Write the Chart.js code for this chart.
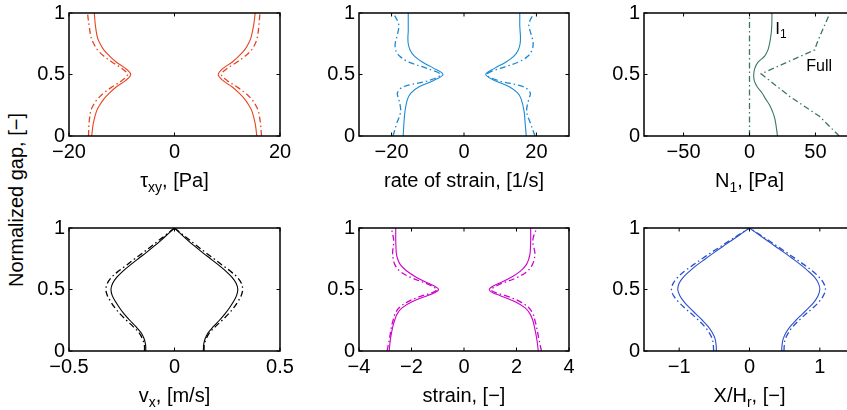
<!DOCTYPE html>
<html>
<head>
<meta charset="utf-8">
<script src="https://cdn.jsdelivr.net/npm/chart.js@4/dist/chart.umd.min.js"></script>
<style>
  html, body { margin: 0; padding: 0; background: #fff; width: 847px; height: 410px; overflow: hidden; position: relative; }
  canvas { position: absolute; }
  #ylab {
    position: absolute; left: 0; top: 0; width: 300px; text-align: center;
    font: 20px "Liberation Sans", Arial, Helvetica, sans-serif; line-height: 20px;
    white-space: nowrap; color: #000;
    transform-origin: 0 0; transform: translate(6px, 350px) rotate(-90deg);
  }
</style>
</head>
<body>
<div id="ylab">Normalized gap, [−]</div>
<canvas id="c1"></canvas>
<canvas id="c2"></canvas>
<canvas id="c3"></canvas>
<canvas id="c4"></canvas>
<canvas id="c5"></canvas>
<canvas id="c6"></canvas>
<script>
// ---- shear stress ----
const gapTau = [0, 0.1, 0.2, 0.25, 0.3, 0.35, 0.4, 0.45, 0.5, 0.55, 0.6, 0.65, 0.7, 0.75, 0.8, 0.9, 1.0];
const tauSolidRight = [15.6, 15.3, 14.7, 14.1, 13.3, 12.2, 10.9, 9.2, 8.3, 9.2, 10.9, 12.2, 13.3, 14.0, 14.5, 15.0, 15.3];
const tauSolidLeft  = [-15.7, -15.4, -14.8, -14.2, -13.4, -12.3, -11.0, -9.3, -8.3, -9.3, -11.0, -12.3, -13.4, -14.1, -14.6, -15.0, -15.2];
const tauDashRight  = [16.5, 16.3, 15.9, 15.4, 14.6, 13.4, 11.8, 10.0, 8.9, 10.0, 11.8, 13.4, 14.6, 15.3, 15.7, 16.0, 16.2];
const tauDashLeft   = [-16.3, -16.2, -15.9, -15.4, -14.6, -13.4, -11.8, -10.0, -8.9, -10.0, -11.8, -13.4, -14.6, -15.3, -15.8, -16.2, -16.5];
const tauTicks = [-20, 0, 20];

// ---- rate of strain ----
const gapRate = [0, 0.1, 0.2, 0.3, 0.35, 0.4, 0.45, 0.5, 0.55, 0.6, 0.65, 0.7, 0.75, 0.8, 0.85, 0.9, 0.95, 1.0];
const rateSolidRight = [17.2, 16.9, 16.6, 15.8, 14.8, 12.5, 8.6, 6.0, 8.4, 11.5, 13.8, 15.0, 15.5, 15.6, 15.5, 15.4, 15.4, 15.4];
const rateSolidLeft  = [-16.8, -16.6, -16.3, -15.6, -14.6, -12.4, -8.5, -5.8, -8.3, -11.4, -13.7, -14.9, -15.4, -15.5, -15.4, -15.4, -15.4, -15.4];
const rateDashRight  = [19.6, 18.4, 17.3, 17.9, 18.3, 16.5, 9.5, 6.3, 10.0, 15.0, 17.7, 18.8, 19.1, 18.8, 18.3, 17.9, 18.4, 19.5];
const rateDashLeft   = [-19.6, -18.6, -17.5, -18.0, -18.4, -16.8, -9.8, -6.5, -10.2, -15.2, -17.8, -18.9, -19.0, -18.6, -18.2, -18.0, -18.6, -19.6];
const rateTicks = [-20, 0, 20];

// ---- first normal stress difference ----
const gapN1 = [0, 0.05, 0.1, 0.15, 0.2, 0.25, 0.3, 0.35, 0.4, 0.45, 0.5, 0.55, 0.6, 0.65, 0.7, 0.75, 0.8, 0.85, 0.9, 0.95, 1.0];
const n1I1   = [21.2, 20.6, 19.9, 19.0, 17.4, 15.3, 12.3, 9.5, 5.8, 3.6, 3.2, 4.0, 6.5, 11.5, 14.0, 15.2, 16.0, 16.6, 16.9, 17.0, 17.0];
const gapN1Full = [0, 0.16, 0.32, 0.505, 0.7, 0.75, 0.84, 1.0];
const n1Full = [68, 53, 30.7, 8.8, 49.5, 51, 54.5, 61];
const gapN1Zero = [0, 1];
const n1Zero = [0, 0];
const n1Ticks = [-50, 0, 50];

// ---- velocity ----
const gapVel = [0, 0.05, 0.1, 0.15, 0.2, 0.25, 0.3, 0.35, 0.4, 0.45, 0.5, 0.55, 0.6, 0.65, 0.7, 0.75, 0.8, 0.85, 0.9, 0.95, 1.0];
const velSolidRight = [0.137, 0.138, 0.145, 0.16, 0.185, 0.213, 0.238, 0.26, 0.279, 0.294, 0.300, 0.292, 0.272, 0.243, 0.208, 0.171, 0.133, 0.097, 0.063, 0.031, 0];
const velSolidLeft  = [-0.136, -0.137, -0.144, -0.159, -0.184, -0.212, -0.238, -0.26, -0.279, -0.295, -0.301, -0.293, -0.273, -0.244, -0.209, -0.172, -0.134, -0.098, -0.064, -0.032, 0];
const velDashRight  = [0.14, 0.141, 0.15, 0.167, 0.195, 0.226, 0.255, 0.28, 0.3, 0.316, 0.323, 0.317, 0.297, 0.264, 0.225, 0.187, 0.148, 0.11, 0.073, 0.036, 0];
const velDashLeft   = [-0.142, -0.143, -0.152, -0.169, -0.197, -0.228, -0.257, -0.282, -0.302, -0.318, -0.325, -0.318, -0.298, -0.265, -0.226, -0.188, -0.149, -0.111, -0.074, -0.037, 0];
const velTicks = [-0.5, 0, 0.5];

// ---- strain ----
const gapStrain = [0, 0.1, 0.2, 0.25, 0.3, 0.35, 0.4, 0.45, 0.475, 0.5, 0.525, 0.55, 0.6, 0.65, 0.7, 0.75, 0.8, 0.9, 1.0];
const strainSolidRight = [2.83, 2.77, 2.68, 2.62, 2.52, 2.33, 1.95, 1.38, 1.08, 0.96, 1.08, 1.33, 1.8, 2.15, 2.37, 2.47, 2.52, 2.54, 2.54];
const strainSolidLeft  = [-2.85, -2.8, -2.71, -2.64, -2.55, -2.36, -1.98, -1.4, -1.1, -0.97, -1.1, -1.35, -1.82, -2.18, -2.42, -2.53, -2.58, -2.6, -2.6];
const strainDashRight  = [2.95, 2.85, 2.76, 2.7, 2.63, 2.48, 2.15, 1.58, 1.2, 1.03, 1.2, 1.45, 2.05, 2.42, 2.6, 2.68, 2.7, 2.62, 2.77];
const strainDashLeft   = [-2.93, -2.84, -2.76, -2.7, -2.63, -2.48, -2.15, -1.58, -1.2, -1.03, -1.2, -1.45, -2.05, -2.45, -2.63, -2.7, -2.72, -2.68, -2.77];
const strainTicks = [-4, -2, 0, 2, 4];

// ---- displacement ----
const gapDisp = [0, 0.05, 0.1, 0.15, 0.2, 0.25, 0.3, 0.35, 0.4, 0.45, 0.5, 0.55, 0.6, 0.65, 0.7, 0.75, 0.8, 0.85, 0.9, 0.95, 1.0];
const dispSolidRight = [0.457, 0.463, 0.48, 0.52, 0.58, 0.66, 0.75, 0.84, 0.92, 0.975, 1.0, 0.98, 0.925, 0.835, 0.73, 0.615, 0.495, 0.37, 0.245, 0.122, 0];
const dispSolidLeft  = [-0.47, -0.475, -0.49, -0.53, -0.59, -0.67, -0.76, -0.85, -0.93, -0.99, -1.02, -1.0, -0.94, -0.85, -0.745, -0.625, -0.505, -0.38, -0.25, -0.125, 0];
const dispDashRight  = [0.49, 0.495, 0.51, 0.555, 0.62, 0.705, 0.8, 0.9, 0.99, 1.05, 1.08, 1.055, 0.99, 0.895, 0.78, 0.655, 0.53, 0.4, 0.268, 0.134, 0];
const dispDashLeft   = [-0.51, -0.515, -0.53, -0.575, -0.64, -0.725, -0.82, -0.92, -1.01, -1.08, -1.11, -1.085, -1.02, -0.92, -0.8, -0.675, -0.545, -0.41, -0.275, -0.137, 0];
const dispTicks = [-1, 0, 1];

const gapTicks = [0, 0.5, 1];

// ---- drawing ----
const FONT = '"Liberation Sans", Arial, Helvetica, sans-serif';
const DASHDOT = [6, 3, 1.5, 3];
const TICK_LEN = 3.5;
const TITLE_DROP = 51;

function pts(gap, xs) { return xs.map((v, i) => ({ x: v, y: gap[i] })); }
function fmt(v) {
  const a = Math.abs(v);
  return (v < 0 ? '\u2212' : '') + (Math.round(a * 100) / 100).toString();
}
function solid(gap, xs, color, tension = 0.35) {
  return { data: pts(gap, xs), borderColor: color, borderWidth: 1.1, showLine: true, pointRadius: 0, tension, fill: false };
}
function dashed(gap, xs, color, tension = 0.35) {
  return { data: pts(gap, xs), borderColor: color, borderWidth: 1.3, borderDash: DASHDOT, showLine: true, pointRadius: 0, tension, fill: false };
}

// draws text made of [text, isSubscript] parts, left edge at x, baseline at y
function drawParts(ctx, parts, x, y, size) {
  const sub = Math.round(size * 0.7);
  let cx = x;
  parts.forEach(([t, s]) => {
    ctx.font = (s ? sub : size) + 'px ' + FONT;
    ctx.fillText(t, cx, s ? y + size * 0.25 : y);
    cx += ctx.measureText(t).width;
  });
}
function partsWidth(ctx, parts, size) {
  const sub = Math.round(size * 0.7);
  let w = 0;
  parts.forEach(([t, s]) => { ctx.font = (s ? sub : size) + 'px ' + FONT; w += ctx.measureText(t).width; });
  return w;
}

function boxPlugin(xTicks, title, notes) {
  return {
    id: 'box',
    afterDatasetsDraw(chart) {
      const { ctx, chartArea: a, scales: { x, y } } = chart;
      ctx.save();
      ctx.strokeStyle = '#000';
      ctx.lineWidth = 1;
      ctx.beginPath();
      xTicks.forEach(v => {
        const p = x.getPixelForValue(v);
        ctx.moveTo(p, a.bottom); ctx.lineTo(p, a.bottom - TICK_LEN);
        ctx.moveTo(p, a.top); ctx.lineTo(p, a.top + TICK_LEN);
      });
      gapTicks.forEach(v => {
        const p = y.getPixelForValue(v);
        ctx.moveTo(a.left, p); ctx.lineTo(a.left + TICK_LEN, p);
        ctx.moveTo(a.right, p); ctx.lineTo(a.right - TICK_LEN, p);
      });
      ctx.stroke();
      ctx.lineWidth = 1.5;
      ctx.strokeRect(a.left, a.top, a.right - a.left, a.bottom - a.top);

      ctx.fillStyle = '#000';
      ctx.textAlign = 'left';
      ctx.textBaseline = 'alphabetic';
      const w = partsWidth(ctx, title, 20);
      drawParts(ctx, title, (a.left + a.right) / 2 - w / 2, a.bottom + TITLE_DROP, 20);
      (notes || []).forEach(n => {
        drawParts(ctx, n.parts, x.getPixelForValue(n.x), y.getPixelForValue(n.y), n.size);
      });
      ctx.restore();
    }
  };
}

function panel(id, box, xRange, xTicks, title, datasets, notes) {
  const [L, T, R, B] = box;
  const padL = 60, padT = 20, padR = 30, axisH = 70;
  const cv = document.getElementById(id);
  cv.width = (R - L) + padL + padR;
  cv.height = (B - T) + padT + axisH;
  cv.style.left = (L - padL) + 'px';
  cv.style.top = (T - padT) + 'px';
  const tickFont = { size: 20, family: FONT };
  new Chart(cv, {
    type: 'scatter',
    data: { datasets },
    options: {
      responsive: false, animation: false, devicePixelRatio: 1, events: [],
      layout: { padding: { left: 0, top: padT, right: padR, bottom: 0 } },
      plugins: { legend: { display: false }, tooltip: { enabled: false } },
      scales: {
        x: {
          type: 'linear', min: xRange[0], max: xRange[1],
          grid: { display: false, drawTicks: false }, border: { display: false },
          afterBuildTicks: ax => { ax.ticks = xTicks.map(v => ({ value: v })); },
          afterFit: ax => { ax.height = axisH; },
          ticks: { padding: 4, color: '#000', font: tickFont, maxRotation: 0, autoSkip: false, callback: v => fmt(v) }
        },
        y: {
          type: 'linear', min: 0, max: 1,
          grid: { display: false, drawTicks: false }, border: { display: false },
          afterBuildTicks: ax => { ax.ticks = gapTicks.map(v => ({ value: v })); },
          afterFit: ax => { ax.width = padL; },
          ticks: { padding: 4, color: '#000', font: tickFont, autoSkip: false, callback: v => fmt(v) }
        }
      }
    },
    plugins: [boxPlugin(xTicks, title, notes)]
  });
}

const RED = '#e8431f', BLUE = '#1a8ad4', TEAL = '#3c7763', BLACK = '#000000', MAG = '#cc00cc', NAVY = '#2a4fcf';
const ROW1 = [13, 136.5], ROW2 = [228, 351];
const COL1 = [69, 280], COL2 = [359, 569.5], COL3 = [643.5, 854.5];

panel('c1', [COL1[0], ROW1[0], COL1[1], ROW1[1]], [-20, 20], tauTicks,
  [['\u03c4'], ['xy', 1], [', [Pa]']],
  [solid(gapTau, tauSolidRight, RED), solid(gapTau, tauSolidLeft, RED),
   dashed(gapTau, tauDashRight, RED), dashed(gapTau, tauDashLeft, RED)]);

panel('c2', [COL2[0], ROW1[0], COL2[1], ROW1[1]], [-29, 29], rateTicks,
  [['rate of strain, [1/s]']],
  [solid(gapRate, rateSolidRight, BLUE), solid(gapRate, rateSolidLeft, BLUE),
   dashed(gapRate, rateDashRight, BLUE), dashed(gapRate, rateDashLeft, BLUE)]);

panel('c3', [COL3[0], ROW1[0], COL3[1], ROW1[1]], [-80, 80], n1Ticks,
  [['N'], ['1', 1], [', [Pa]']],
  [solid(gapN1, n1I1, TEAL), dashed(gapN1Full, n1Full, TEAL, 0), dashed(gapN1Zero, n1Zero, TEAL, 0)],
  [{ x: 19.5, y: 0.83, parts: [['I'], ['1', 1]], size: 17 },
   { x: 43, y: 0.53, parts: [['Full']], size: 16 }]);

panel('c4', [COL1[0], ROW2[0], COL1[1], ROW2[1]], [-0.5, 0.5], velTicks,
  [['v'], ['x', 1], [', [m/s]']],
  [solid(gapVel, velSolidRight, BLACK), solid(gapVel, velSolidLeft, BLACK),
   dashed(gapVel, velDashRight, BLACK), dashed(gapVel, velDashLeft, BLACK)]);

panel('c5', [COL2[0], ROW2[0], COL2[1], ROW2[1]], [-4, 4], strainTicks,
  [['strain, [\u2212]']],
  [solid(gapStrain, strainSolidRight, MAG), solid(gapStrain, strainSolidLeft, MAG),
   dashed(gapStrain, strainDashRight, MAG), dashed(gapStrain, strainDashLeft, MAG)]);

panel('c6', [COL3[0], ROW2[0], COL3[1], ROW2[1]], [-1.5, 1.5], dispTicks,
  [['X/H'], ['r', 1], [', [\u2212]']],
  [solid(gapDisp, dispSolidRight, NAVY), solid(gapDisp, dispSolidLeft, NAVY),
   dashed(gapDisp, dispDashRight, NAVY), dashed(gapDisp, dispDashLeft, NAVY)]);
</script>
</body>
</html>
